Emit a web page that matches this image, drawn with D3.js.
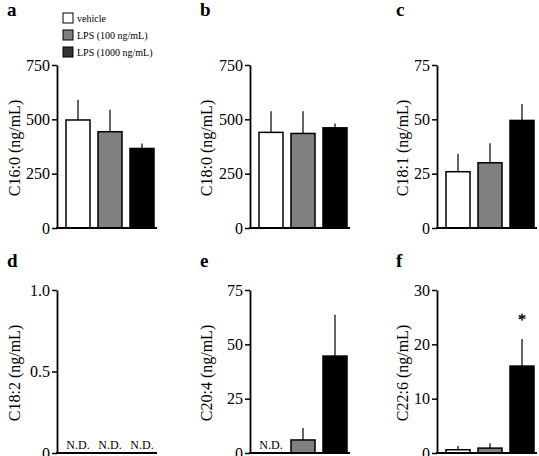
<!DOCTYPE html>
<html>
<head>
<meta charset="utf-8">
<script src="https://cdn.jsdelivr.net/npm/d3@7"></script>
<style>
  body { margin: 0; background: #fff; }
  svg { display: block; font-family: "Liberation Serif", "Times New Roman", serif; }
</style>
</head>
<body>
<svg id="chart" width="539" height="456"></svg>
<script>
// groups and colours
var groups = ["vehicle", "LPS (100 ng/mL)", "LPS (1000 ng/mL)"];
var groupFill = ["#ffffff", "#808080", "#000000"];

// means and SEM per fatty acid (null = N.D.)
var c160Mean = [497, 443, 366], c160Err = [93, 101, 23];
var c180Mean = [440, 435, 461], c180Err = [97, 102, 20];
var c181Mean = [25.9, 30, 49.5], c181Err = [8.3, 9, 7.5];
var c182Mean = [null, null, null], c182Err = [null, null, null];
var c204Mean = [null, 6, 44.6], c204Err = [null, 5.5, 19];
var c226Mean = [0.6, 0.9, 16], c226Err = [0.7, 0.9, 5];

var ticksBig = [0, 250, 500, 750];
var ticks75 = [0, 25, 50, 75];
var ticksOne = [0, 0.5, 1.0];
var ticks30 = [0, 10, 20, 30];

var panels = [
  {letter: "a", label: "C16:0 (ng/mL)", mean: c160Mean, err: c160Err, max: 750, ticks: ticksBig, col: 0, row: 0},
  {letter: "b", label: "C18:0 (ng/mL)", mean: c180Mean, err: c180Err, max: 750, ticks: ticksBig, col: 1, row: 0},
  {letter: "c", label: "C18:1 (ng/mL)", mean: c181Mean, err: c181Err, max: 75, ticks: ticks75, col: 2, row: 0},
  {letter: "d", label: "C18:2 (ng/mL)", mean: c182Mean, err: c182Err, max: 1, ticks: ticksOne, col: 0, row: 1, fmt: function(d){ return d === 0 ? "0" : d3.format(".1f")(d); }},
  {letter: "e", label: "C20:4 (ng/mL)", mean: c204Mean, err: c204Err, max: 75, ticks: ticks75, col: 1, row: 1},
  {letter: "f", label: "C22:6 (ng/mL)", mean: c226Mean, err: c226Err, max: 30, ticks: ticks30, col: 2, row: 1, star: 2}
];

// layout
var axisX = [57, 250, 437];
var letterX = [7, 200, 396];
var labelX = [14, 206, 402];
var rowTop = [65, 290], rowBottom = [228, 453];
var letterY = [16, 267];
var labelY = [148, 373];

var svg = d3.select("#chart");

panels.forEach(function(p){
  var x0 = axisX[p.col];
  var y = d3.scaleLinear().domain([0, p.max]).range([rowBottom[p.row], rowTop[p.row]]);
  var x = d3.scaleBand().domain(groups).range([x0 + 9, x0 + 97]).paddingInner(0.25).paddingOuter(0);

  var g = svg.append("g");

  // panel letter
  g.append("text")
    .attr("x", letterX[p.col]).attr("y", letterY[p.row])
    .attr("font-size", 19).attr("font-weight", "bold")
    .text(p.letter);

  // y label
  g.append("text")
    .attr("transform", "translate(" + labelX[p.col] + "," + labelY[p.row] + ") rotate(-90)")
    .attr("text-anchor", "middle").attr("dy", "0.35em")
    .attr("font-size", 16)
    .text(p.label);

  // bars
  var data = groups.map(function(gr, i){ return {g: gr, i: i, m: p.mean[i], e: p.err[i]}; });
  var present = data.filter(function(d){ return d.m !== null; });

  g.selectAll(".err").data(present).enter().append("line")
    .attr("x1", function(d){ return x(d.g) + x.bandwidth() / 2; })
    .attr("x2", function(d){ return x(d.g) + x.bandwidth() / 2; })
    .attr("y1", function(d){ return y(d.m); })
    .attr("y2", function(d){ return y(d.m + d.e); })
    .attr("stroke", "#333").attr("stroke-width", 1.5);

  g.selectAll(".bar").data(present).enter().append("rect")
    .attr("x", function(d){ return x(d.g); })
    .attr("y", function(d){ return y(d.m); })
    .attr("width", x.bandwidth())
    .attr("height", function(d){ return y(0) - y(d.m); })
    .attr("fill", function(d){ return groupFill[d.i]; })
    .attr("stroke", "#000").attr("stroke-width", 1.5);

  // N.D. labels
  g.selectAll(".nd").data(data.filter(function(d){ return d.m === null; })).enter().append("text")
    .attr("x", function(d){ return x(d.g) + x.bandwidth() / 2; })
    .attr("y", y(0) - 4)
    .attr("text-anchor", "middle").attr("font-size", 12)
    .text("N.D.");

  if (p.star !== undefined) {
    var s = data[p.star];
    g.append("text")
      .attr("x", x(s.g) + x.bandwidth() / 2)
      .attr("y", y(s.m + s.e) - 14)
      .attr("text-anchor", "middle").attr("font-size", 16)
      .attr("fill", "#000").attr("stroke", "#000").attr("stroke-width", 0.4)
      .text("*");
  }

  // axes
  var ax = d3.axisLeft(y).tickValues(p.ticks).tickSize(5).tickSizeOuter(0).tickPadding(2);
  if (p.fmt) ax.tickFormat(p.fmt);
  var ag = g.append("g").attr("transform", "translate(" + x0 + ",0)").call(ax);
  ag.select(".domain").attr("stroke-width", 1.8);
  ag.selectAll(".tick line").attr("stroke-width", 1.5);
  ag.selectAll(".tick text").attr("font-size", 16).attr("font-family", "Liberation Serif, serif").attr("fill", "#000");

  g.append("line")
    .attr("x1", x0 - 0.9).attr("x2", x0 + 100)
    .attr("y1", y(0)).attr("y2", y(0))
    .attr("stroke", "#000").attr("stroke-width", 1.8);
});

// legend
var legend = svg.append("g").attr("transform", "translate(63,13)");
var rows = legend.selectAll("g").data(groups).enter().append("g")
  .attr("transform", function(d, i){ return "translate(0," + (i * 17) + ")"; });
rows.append("rect")
  .attr("width", 10).attr("height", 10)
  .attr("fill", function(d, i){ return i === 2 ? "#333" : groupFill[i]; })
  .attr("stroke", "#000").attr("stroke-width", 1);
rows.append("text")
  .attr("x", 14).attr("y", 9)
  .attr("font-size", 10)
  .text(function(d){ return d; });
</script>
</body>
</html>
